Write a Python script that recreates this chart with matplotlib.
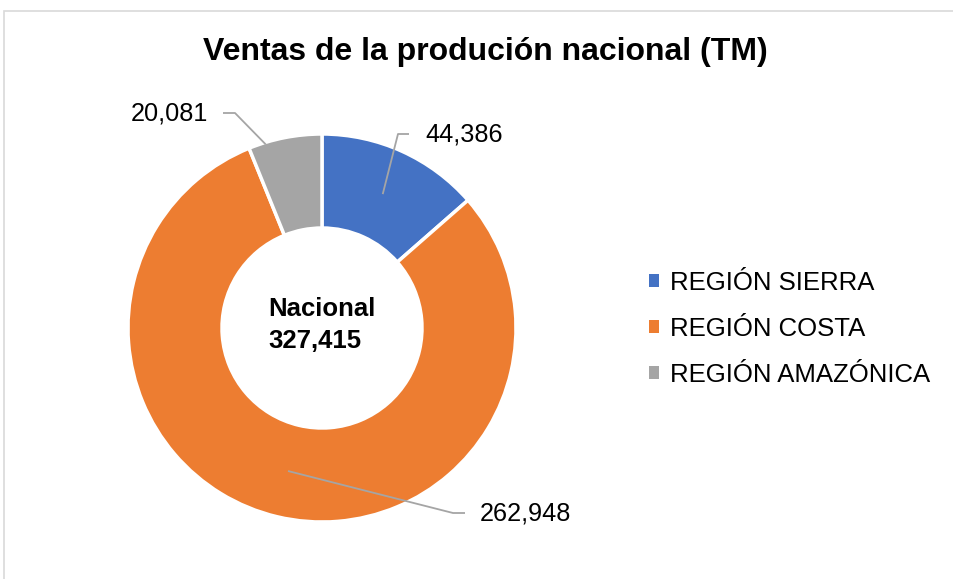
import numpy as np
import matplotlib
matplotlib.use("Agg")
import matplotlib.pyplot as plt
from matplotlib.patches import Rectangle, Patch

plt.rcParams['font.family'] = ['Liberation Sans', 'DejaVu Sans']

title = "Ventas de la produción nacional (TM)"
categories = ["REGIÓN SIERRA", "REGIÓN COSTA", "REGIÓN AMAZÓNICA"]
values = [44386, 262948, 20081]
colors = ["#4472C4", "#ED7D31", "#A5A5A5"]
center_label = "Nacional"

W, H = 954, 579
fig = plt.figure(figsize=(W / 100, H / 100), dpi=100)
ax = fig.add_axes([0, 0, 1, 1])

cx, cy = 322, H - 328
R, Rin = 194, 100

wedges, _ = ax.pie(values, colors=colors, startangle=90, counterclock=False,
                   center=(cx, cy), radius=R,
                   wedgeprops=dict(width=R - Rin, edgecolor="white", linewidth=2.5))
ax.set_xlim(0, W)
ax.set_ylim(0, H)
ax.set_aspect("equal")
ax.axis("off")

# frame
ax.add_patch(Rectangle((4.5, -20), W + 40, H - 11 + 20, fill=False,
                       edgecolor="#D9D9D9", linewidth=1.2))

ax.text(485, H - 60, title, ha="center", va="baseline", fontsize=23,
        fontweight="bold", color="black")

# leader lines + labels (layout: anchor radius/angle shift, elbow, label position)
layouts = [
    dict(r=(R + Rin) / 2, shift=0, elbow=(398, H - 134), end=(409, H - 134), txt=(425, H - 134), ha="left"),
    dict(r=(R + Rin) / 2, shift=0, elbow=(453, H - 513), end=(465, H - 513), txt=(480, H - 514), ha="left"),
    dict(r=R - 2, shift=6, elbow=(235, H - 113), end=(223, H - 113), txt=(208, H - 113), ha="right"),
]
for w, v, lay in zip(wedges, values, layouts):
    mid = np.deg2rad((w.theta1 + w.theta2) / 2 + lay["shift"])
    ax_x = cx + lay["r"] * np.cos(mid)
    ax_y = cy + lay["r"] * np.sin(mid)
    ex, ey = lay["elbow"]
    fx, fy = lay["end"]
    ax.plot([ax_x, ex, fx], [ax_y, ey, fy], color="#A5A5A5", linewidth=1.3,
            solid_capstyle="butt")
    ax.text(lay["txt"][0], lay["txt"][1], f"{v:,}", ha=lay["ha"], va="center",
            fontsize=18.2, color="black")

total = sum(values)
ax.text(268, cy + 3, f"{center_label}\n{total:,}", ha="left", va="center",
        fontsize=18.5, fontweight="bold", color="black", linespacing=1.38)

handles = [Patch(facecolor=c, edgecolor="none") for c in colors]
leg = ax.legend(handles, categories, loc="center left",
                bbox_to_anchor=(649 / W, 1 - 329 / H), frameon=False,
                fontsize=18.5, handlelength=0.4, handleheight=0.4,
                handletextpad=0.4, labelspacing=0.86, borderaxespad=0,
                borderpad=0)

fig.savefig("out.png", dpi=100, facecolor="white")
